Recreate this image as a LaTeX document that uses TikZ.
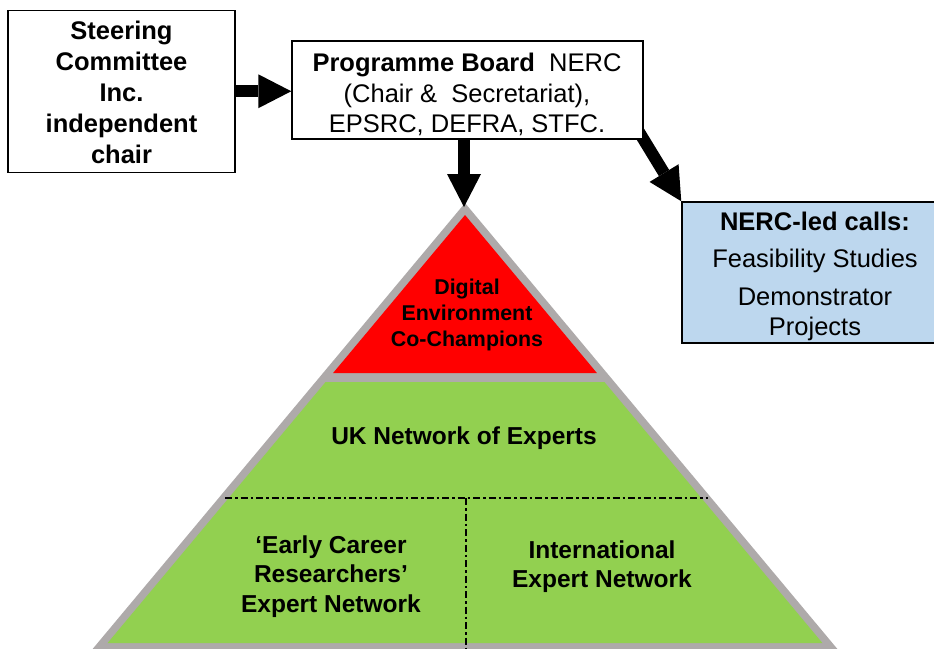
\documentclass[tikz,border=0pt]{standalone}
\usepackage{fontspec}
\setmainfont{Liberation Sans}
\usetikzlibrary{arrows.meta,calc}
\pgfdeclarelayer{pyr}
\pgfdeclarelayer{arr}
\pgfsetlayers{pyr,arr,main}
\definecolor{pyrgray}{HTML}{AEAAAA}
\definecolor{pyrred}{HTML}{FF0000}
\definecolor{pyrgreen}{HTML}{92D050}
\definecolor{callblue}{HTML}{BDD7EE}
\begin{document}
\begin{tikzpicture}[x=1pt,y=-1pt,
  box/.style={draw=black,line width=1.5pt,inner sep=0pt},
  bigtext/.style={align=center,anchor=base,inner sep=0pt},
  bigarrow/.style={line width=12pt,-{Triangle[width=34pt,length=33pt,line width=0pt]}},
  dashdot/.style={line width=2.5pt,dash pattern=on 7pt off 3pt on 2.5pt off 3pt},
  ]
\useasboundingbox (0,0) rectangle (934,648);
% pyramid
\begin{pgfonlayer}{pyr}
\fill[pyrgray] (465,203) -- (846.6,660) -- (83.4,660) -- cycle;
\fill[pyrred] (465,215) -- (596.9,373) -- (333.1,373) -- cycle;
\fill[pyrgreen] (325.6,382) -- (604.4,382) -- (822.4,643) -- (107.6,643) -- cycle;
\draw[dashdot] (225,498) -- (708,498);
\draw[dashdot] (466,498) -- (466,648);
\end{pgfonlayer}
% boxes
\node[box,fill=white,minimum width=227pt,minimum height=162pt] (sc) at (121.5,91.25) {};
\node[box,fill=white,minimum width=351pt,minimum height=98pt] (pb) at (467.5,90) {};
\node[box,fill=callblue,minimum width=254pt,minimum height=141pt] (nerc) at (809,272.5) {};
% box texts (anchor = baseline of last line)
\node[bigtext,font=\fontsize{25.5}{31}\selectfont\bfseries] (sct) at (121.5,163)
  {Steering\\Committee\\Inc.\\independent\\chair};
\node[bigtext,font=\fontsize{25.5}{30.5}\selectfont] (pbt) at (467,132.7)
  {\textbf{Programme Board}\ \ NERC\\(Chair \&\ \ Secretariat),\\EPSRC, DEFRA, STFC.};
\node[bigtext,font=\fontsize{25.5}{30}\selectfont] (nerct) at (815,335)
  {\textbf{NERC-led calls:}\\[7.5pt]Feasibility Studies\\[7.5pt]Demonstrator\\Projects};
% pyramid texts
\node[bigtext,font=\fontsize{21.4}{26}\selectfont\bfseries] (dec) at (467,346)
  {Digital\\Environment\\Co-Champions};
\node[bigtext,font=\fontsize{24.5}{29.5}\selectfont\bfseries] (uk) at (464,444)
  {UK Network of Experts};
\node[bigtext,font=\fontsize{24.5}{29.5}\selectfont\bfseries] (ecr) at (331,612)
  {‘Early Career\\Researchers’\\Expert Network};
\node[bigtext,font=\fontsize{24.5}{29.5}\selectfont\bfseries] (int) at (602,587.5)
  {International\\Expert Network};
% arrows
\coordinate (apex) at (464,207);
\begin{pgfonlayer}{arr}
\draw[bigarrow] (sc.center) -- (sc.center -| pb.west);
\draw[bigarrow] (pb.center -| apex) -- (apex);
\draw[bigarrow] ($(pb.south east)!-12pt!(nerc.north west)$) -- (nerc.north west);
\end{pgfonlayer}
\end{tikzpicture}
\end{document}
